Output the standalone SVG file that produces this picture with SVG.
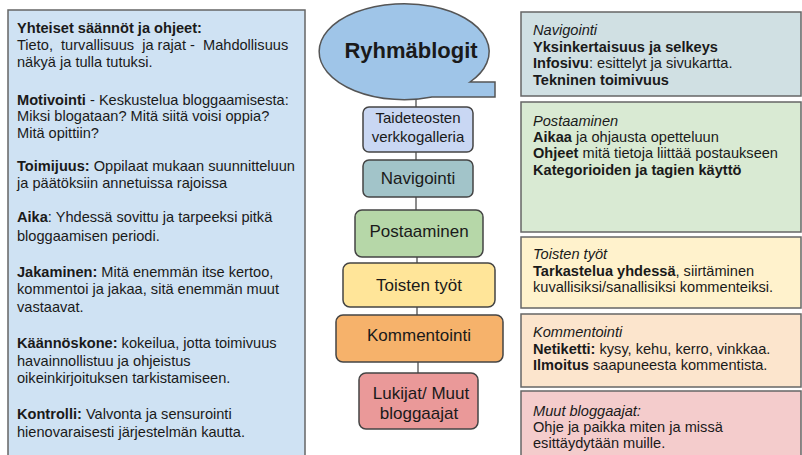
<svg xmlns="http://www.w3.org/2000/svg" width="802" height="455" viewBox="0 0 802 455">
<style>
text{font-family:"Liberation Sans",Arial,sans-serif;fill:#1a1a1a;}
.t{font-size:14.6px;white-space:pre;}
.b{font-weight:bold;}
.i{font-style:italic;}
.c{font-size:17px;text-anchor:middle;}
.panel{stroke:#666;stroke-width:1.5;}
.box{stroke:#444;stroke-width:1.5;}
.conn{stroke:#666;stroke-width:1.5;fill:none;}
</style>
<rect width="802" height="455" fill="#fff"/>
<g id="left-panel">
<rect class="panel" x="8" y="10" width="297" height="460" fill="#cfe2f3"/>
<text class="t" x="17"><tspan x="17" y="33" class="b">Yhteiset säännöt ja ohjeet:</tspan><tspan x="17" y="50">Tieto,  turvallisuus  ja rajat -  Mahdollisuus</tspan><tspan x="17" y="67">näkyä ja tulla tutuksi.</tspan><tspan x="17" y="105"><tspan class="b">Motivointi</tspan> - Keskustelua bloggaamisesta:</tspan><tspan x="17" y="121">Miksi blogataan? Mitä siitä voisi oppia?</tspan><tspan x="17" y="138">Mitä opittiin?</tspan><tspan x="17" y="171"><tspan class="b">Toimijuus:</tspan> Oppilaat mukaan suunnitteluun</tspan><tspan x="17" y="188">ja päätöksiin annetuissa rajoissa</tspan><tspan x="17" y="222"><tspan class="b">Aika</tspan>: Yhdessä sovittu ja tarpeeksi pitkä</tspan><tspan x="17" y="241">bloggaamisen periodi.</tspan><tspan x="17" y="277"><tspan class="b">Jakaminen:</tspan> Mitä enemmän itse kertoo,</tspan><tspan x="17" y="294">kommentoi ja jakaa, sitä enemmän muut</tspan><tspan x="17" y="312">vastaavat.</tspan><tspan x="17" y="348"><tspan class="b">Käännöskone:</tspan> kokeilua, jotta toimivuus</tspan><tspan x="17" y="366">havainnollistuu ja ohjeistus</tspan><tspan x="17" y="383">oikeinkirjoituksen tarkistamiseen.</tspan><tspan x="17" y="419"><tspan class="b">Kontrolli:</tspan> Valvonta ja sensurointi</tspan><tspan x="17" y="437">hienovaraisesti järjestelmän kautta.</tspan></text>
</g>
<g id="connectors">
<line class="conn" x1="416" y1="97" x2="416" y2="107"/>
<line class="conn" x1="416" y1="152" x2="416" y2="160"/>
<line class="conn" x1="416" y1="197" x2="416" y2="210"/>
<line class="conn" x1="417" y1="257" x2="417" y2="263"/>
<line class="conn" x1="417" y1="307" x2="417" y2="315"/>
<line class="conn" x1="418" y1="362" x2="418" y2="373"/>
</g>
<g id="ryhmablogit">
<path d="M470,82 L495,82 L495,97 L432,97 A85,48 0 1 1 470,82 Z" fill="#9fc5e8" stroke="#555" stroke-width="1.5"/>
<text x="411" y="58" style="font-size:22px;font-weight:bold;text-anchor:middle">Ryhmäblogit</text>
</g>
<g id="taideteosten">
<rect class="box" x="363" y="107" width="110" height="45" rx="6" fill="#c9d7f3" stroke="#777"/>
<text class="c" x="418" y="123" style="font-size:15px">Taideteosten</text>
<text class="c" x="418" y="142" style="font-size:15px">verkkogalleria</text>
</g>
<g id="navigointi">
<rect class="box" x="363" y="160" width="110" height="37" rx="6" fill="#a2c4c9" stroke="#666"/>
<text class="c" x="418" y="184">Navigointi</text>
</g>
<g id="postaaminen">
<rect class="box" x="355" y="210" width="128" height="47" rx="7" fill="#b6d7a8" stroke="#333" stroke-width="2"/>
<text class="c" x="419" y="237">Postaaminen</text>
</g>
<g id="toisten">
<rect class="box" x="343" y="263" width="152" height="44" rx="7" fill="#ffe599" stroke="#333" stroke-width="2"/>
<text class="c" x="419" y="291">Toisten työt</text>
</g>
<g id="kommentointi">
<rect class="box" x="336" y="315" width="167" height="47" rx="7" fill="#f6b26b" stroke="#333" stroke-width="2"/>
<text class="c" x="419" y="341">Kommentointi</text>
</g>
<g id="lukijat">
<rect class="box" x="359" y="373" width="119" height="56" rx="7" fill="#ea9999" stroke="#333" stroke-width="2"/>
<text class="c" x="421" y="399">Lukijat/ Muut</text>
<text class="c" x="419" y="419">bloggaajat</text>
</g>
<g id="r-navigointi">
<rect class="panel" x="521" y="12" width="280" height="84" fill="#d0e0e3" stroke-width="2"/>
<text class="t"><tspan x="533" y="35" class="i">Navigointi</tspan><tspan x="533" y="52" class="b">Yksinkertaisuus ja selkeys</tspan><tspan x="533" y="68"><tspan class="b">Infosivu</tspan>: esittelyt ja sivukartta.</tspan><tspan x="533" y="85" class="b">Tekninen toimivuus</tspan></text>
</g>
<g id="r-postaaminen">
<rect class="panel" x="521" y="102" width="280" height="130" fill="#d9ead3" stroke-width="2"/>
<text class="t"><tspan x="533" y="126" class="i">Postaaminen</tspan><tspan x="533" y="142"><tspan class="b">Aikaa</tspan> ja ohjausta opetteluun</tspan><tspan x="533" y="158"><tspan class="b">Ohjeet</tspan> mitä tietoja liittää postaukseen</tspan><tspan x="533" y="175" class="b">Kategorioiden ja tagien käyttö</tspan></text>
</g>
<g id="r-toisten">
<rect class="panel" x="521" y="237" width="280" height="71" fill="#fff2cc" stroke-width="2"/>
<text class="t"><tspan x="533" y="259" class="i">Toisten työt</tspan><tspan x="533" y="276"><tspan class="b">Tarkastelua yhdessä</tspan>, siirtäminen</tspan><tspan x="533" y="292">kuvallisiksi/sanallisiksi kommenteiksi.</tspan></text>
</g>
<g id="r-kommentointi">
<rect class="panel" x="521" y="314" width="280" height="73" fill="#fce5cd" stroke-width="2"/>
<text class="t"><tspan x="533" y="337" class="i">Kommentointi</tspan><tspan x="533" y="354"><tspan class="b">Netiketti:</tspan> kysy, kehu, kerro, vinkkaa.</tspan><tspan x="533" y="370"><tspan class="b">Ilmoitus</tspan> saapuneesta kommentista.</tspan></text>
</g>
<g id="r-muut">
<rect class="panel" x="521" y="391" width="280" height="80" fill="#f4cccc" stroke-width="2"/>
<text class="t"><tspan x="533" y="416" class="i">Muut bloggaajat:</tspan><tspan x="533" y="432">Ohje ja paikka miten ja missä</tspan><tspan x="533" y="448">esittäydytään muille.</tspan></text>
</g>
</svg>
